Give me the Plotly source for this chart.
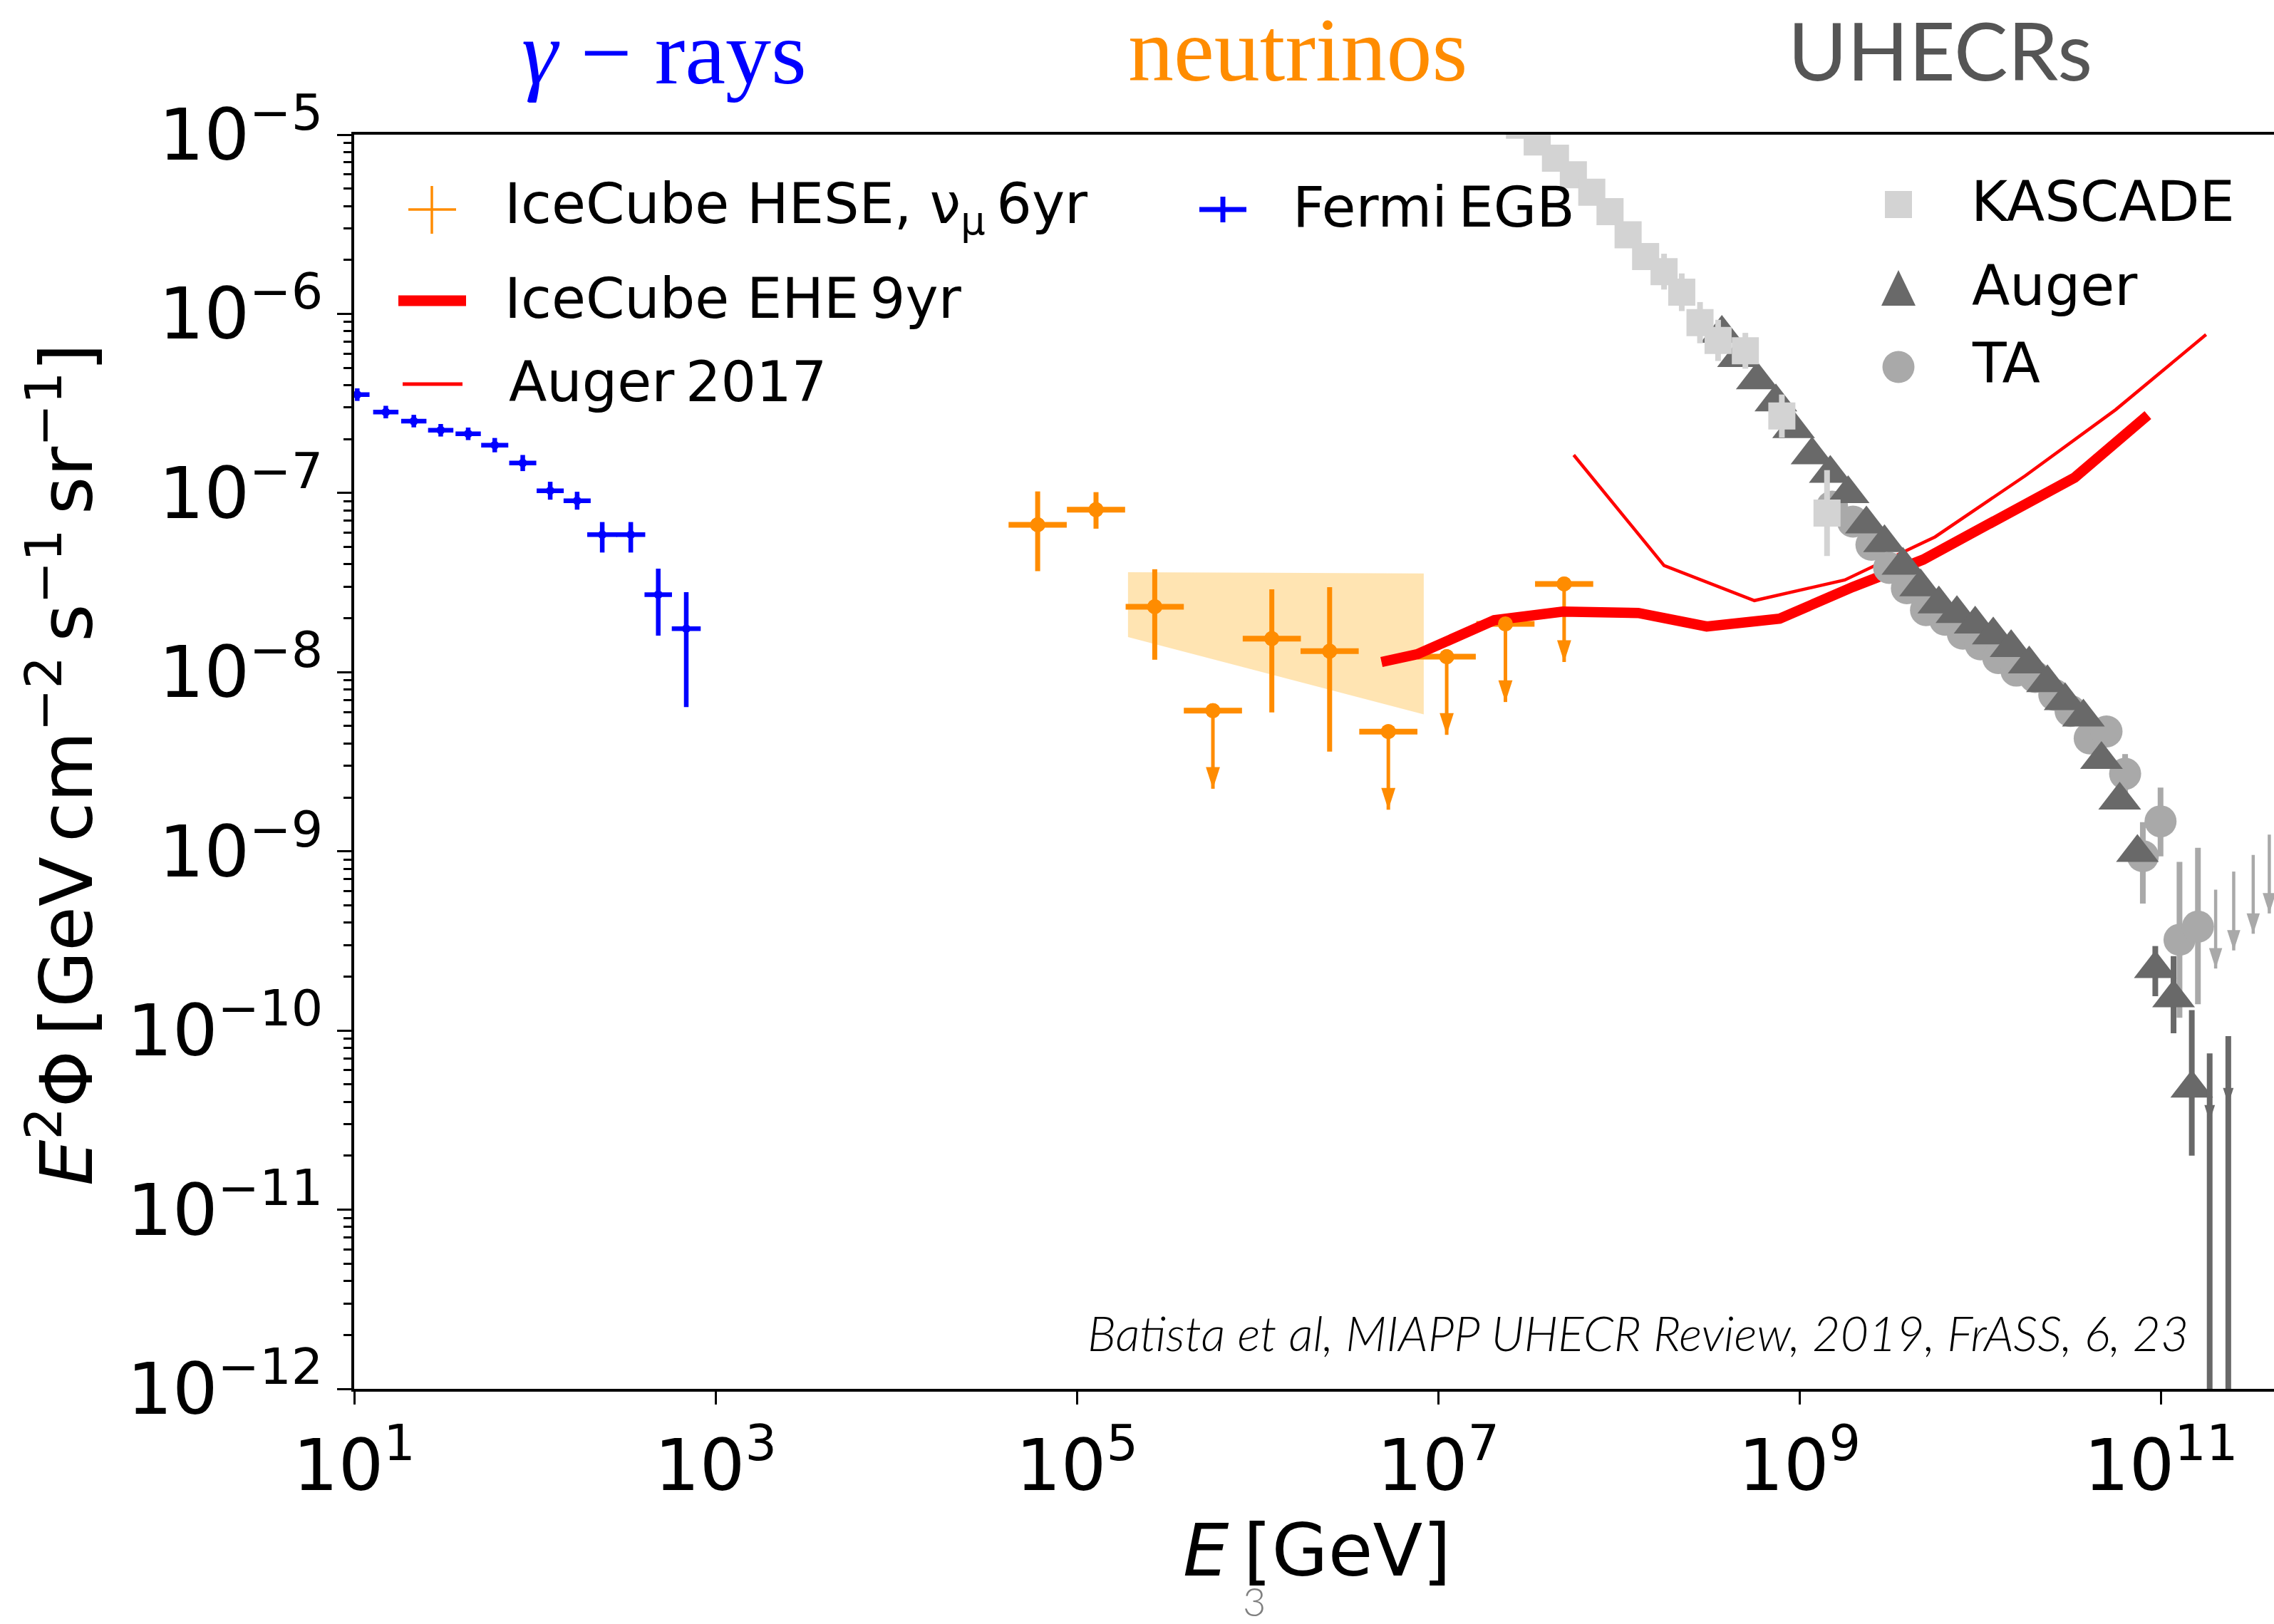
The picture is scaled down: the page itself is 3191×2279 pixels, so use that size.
import numpy as np
import plotly.graph_objects as go

# ------------------------------------------------------------------
# Data (energies given as log10(E / GeV), fluxes as E^2 Phi)
# ------------------------------------------------------------------

# Fermi-LAT extragalactic gamma-ray background
fermi_log10E = [1.017, 1.175, 1.330, 1.479, 1.631, 1.778, 1.933, 2.085, 2.234, 2.373, 2.531, 2.683, 2.838]
fermi_flux = [3.54e-7, 2.83e-7, 2.52e-7, 2.24e-7, 2.14e-7, 1.85e-7, 1.47e-7, 1.03e-7, 9.06e-8, 5.86e-8, 5.86e-8, 2.71e-8, 1.75e-8]
fermi_up_dex = [0.035, 0.035, 0.035, 0.035, 0.035, 0.040, 0.045, 0.050, 0.050, 0.070, 0.070, 0.145, 0.204]
fermi_dn_dex = [0.035, 0.035, 0.035, 0.035, 0.035, 0.040, 0.045, 0.050, 0.050, 0.100, 0.100, 0.229, 0.438]
fermi_halfbin_dex = [0.068, 0.070, 0.070, 0.070, 0.070, 0.075, 0.075, 0.075, 0.075, 0.083, 0.080, 0.076, 0.080]

# IceCube HESE 6yr unfolded spectrum (measured points and upper limits)
hese_log10E = [4.783, 5.106, 5.431, 6.079, 6.399]
hese_flux = [6.65e-8, 8.07e-8, 2.32e-8, 1.54e-8, 1.31e-8]
hese_up_dex = [0.186, 0.098, 0.209, 0.275, 0.357]
hese_dn_dex = [0.259, 0.106, 0.296, 0.412, 0.561]
hese_ul_log10E = [5.753, 6.724, 7.047, 7.372, 7.697]
hese_ul_flux = [6.1e-9, 4.66e-9, 1.22e-8, 1.86e-8, 3.11e-8]
hese_halfbin_dex = 0.161
hese_ul_arrow_dex = 0.436

# IceCube HESE power-law fit band
hese_band_log10E = [5.283, 6.920]
hese_band_upper = [3.61e-8, 3.56e-8]
hese_band_lower = [1.57e-8, 5.82e-9]

# IceCube EHE 9yr differential limit
ehe_log10E = [6.686, 6.884, 7.310, 7.690, 8.107, 8.486, 8.890, 9.295, 9.684, 10.269, 10.523, 10.928]
ehe_flux = [1.14e-8, 1.26e-8, 1.95e-8, 2.18e-8, 2.14e-8, 1.80e-8, 1.99e-8, 2.99e-8, 4.25e-8, 9.08e-8, 1.22e-7, 2.72e-7]

# Auger 2017 neutrino limit
auger17_log10E = [7.75, 8.25, 8.75, 9.25, 9.75, 10.25, 10.75, 11.25]
auger17_flux = [1.63e-7, 3.94e-8, 2.51e-8, 3.27e-8, 5.69e-8, 1.25e-7, 2.92e-7, 7.66e-7]

# KASCADE(-Grande) cosmic-ray spectrum
kascade_log10E = [7.450, 7.548, 7.649, 7.748, 7.850, 7.951, 8.051, 8.148, 8.250, 8.348, 8.449, 8.549, 8.700, 8.902, 9.152]
kascade_flux = [1.13e-5, 9.1e-6, 7.39e-6, 5.97e-6, 4.77e-6, 3.72e-6, 2.76e-6, 2.09e-6, 1.72e-6, 1.32e-6, 8.93e-7, 7.11e-7, 6.22e-7, 2.69e-7, 7.73e-8]
kascade_err_dex = [0.07, 0.07, 0.07, 0.07, 0.07, 0.07, 0.07, 0.07, 0.10, 0.105, 0.115, 0.115, 0.10, 0.12, 0.24]

# Pierre Auger Observatory spectrum
auger_log10E = [8.570, 8.662, 8.766, 8.869, 8.967, 9.069, 9.170, 9.269, 9.370, 9.470, 9.572, 9.670, 9.771, 9.871,
                9.972, 10.072, 10.171, 10.271, 10.372, 10.470, 10.571, 10.671, 10.772, 10.870, 10.969, 11.070, 11.171]
auger_flux = [7.76e-7, 5.69e-7, 4.27e-7, 3.22e-7, 2.28e-7, 1.63e-7, 1.285e-7, 9.89e-8, 6.71e-8, 5.27e-8, 3.94e-8,
              2.99e-8, 2.40e-8, 2.12e-8, 1.85e-8, 1.61e-8, 1.37e-8, 1.11e-8, 8.71e-9, 6.92e-9, 5.61e-9, 3.25e-9,
              1.93e-9, 9.84e-10, 2.21e-10, 1.52e-10, 4.76e-11]
auger_up_dex = [0.0] * 24 + [0.127, 0.233, 0.436]
auger_dn_dex = [0.0] * 24 + [0.153, 0.197, 0.376]
auger_ul_log10E = [11.270, 11.373]
auger_ul_flux = [7.46e-11, 9.31e-11]
auger_ul_arrow_dex = 0.38

# Telescope Array spectrum
ta_log10E = [9.180, 9.296, 9.398, 9.496, 9.594, 9.700, 9.806, 9.904, 10.002, 10.100, 10.200, 10.304, 10.410,
             10.500, 10.606, 10.699, 10.802, 10.900, 10.998, 11.103, 11.205]
ta_flux = [8.39e-8, 6.92e-8, 5.14e-8, 3.82e-8, 2.94e-8, 2.22e-8, 1.96e-8, 1.64e-8, 1.43e-8, 1.20e-8, 1.02e-8,
           9.40e-9, 7.48e-9, 6.07e-9, 4.27e-9, 4.67e-9, 2.71e-9, 9.40e-10, 1.47e-9, 3.21e-10, 3.80e-10]
ta_up_dex = [0.0] * 16 + [0.11, 0.190, 0.189, 0.435, 0.440]
ta_dn_dex = [0.0] * 16 + [0.11, 0.265, 0.195, 0.435, 0.433]
ta_ul_log10E = [11.303, 11.403, 11.511, 11.600]
ta_ul_flux = [6.11e-10, 7.71e-10, 9.55e-10, 1.24e-9]
ta_ul_arrow_dex = 0.44

# Axis ticks
x_tick_exp = [1, 3, 5, 7, 9, 11]
y_tick_exp = [-12, -11, -10, -9, -8, -7, -6, -5]

# ------------------------------------------------------------------
# Colours and fonts
# ------------------------------------------------------------------
BLUE = "#0000ff"
ORANGE = "#ff8c00"
RED = "#ff0000"
LIGHTGRAY = "#d3d3d3"
DARKGRAY = "#a9a9a9"
DIMGRAY = "#696969"
SANS = "DejaVu Sans"
THIN = "\u2009"


def energies(log10E):
    return 10.0 ** np.asarray(log10E, dtype=float)


def dex_err(vals, up, dn):
    v = np.asarray(vals, dtype=float)
    return v * (10.0 ** np.asarray(up, dtype=float) - 1.0), v * (1.0 - 10.0 ** -np.asarray(dn, dtype=float))


def vlines(xs, tops, bottoms):
    x, y = [], []
    for xi, t, b in zip(xs, tops, bottoms):
        x += [xi, xi, None]
        y += [t, b, None]
    return x, y


fig = go.Figure()

# HESE fit band
bx = energies(hese_band_log10E)
fig.add_trace(go.Scatter(
    x=[bx[0], bx[1], bx[1], bx[0]],
    y=[hese_band_upper[0], hese_band_upper[1], hese_band_lower[1], hese_band_lower[0]],
    fill="toself", fillcolor="rgba(255,165,0,0.3)", mode="lines", line=dict(width=0),
    hoverinfo="skip", name="HESE fit"))

# Fermi EGB
fe = energies(fermi_log10E)
fxp, fxm = dex_err(fe, fermi_halfbin_dex, fermi_halfbin_dex)
fyp, fym = dex_err(fermi_flux, fermi_up_dex, fermi_dn_dex)
fig.add_trace(go.Scatter(
    x=fe, y=fermi_flux, mode="markers", name="Fermi EGB",
    marker=dict(color=BLUE, size=12),
    error_x=dict(type="data", array=fxp, arrayminus=fxm, color=BLUE, thickness=6.5, width=0),
    error_y=dict(type="data", array=fyp, arrayminus=fym, color=BLUE, thickness=6.5, width=0)))

# IceCube HESE points (bars below the limit curves, dots on top)
he = energies(hese_log10E)
hxp, hxm = dex_err(he, [hese_halfbin_dex] * len(he), [hese_halfbin_dex] * len(he))
hyp, hym = dex_err(hese_flux, hese_up_dex, hese_dn_dex)
fig.add_trace(go.Scatter(
    x=he, y=hese_flux, mode="markers", name="IceCube HESE",
    marker=dict(color=ORANGE, size=21),
    error_x=dict(type="data", array=hxp, arrayminus=hxm, color=ORANGE, thickness=8, width=0),
    error_y=dict(type="data", array=hyp, arrayminus=hym, color=ORANGE, thickness=7, width=0)))

hue = energies(hese_ul_log10E)
hul = np.asarray(hese_ul_flux)
hul_tip = hul * 10.0 ** (-hese_ul_arrow_dex)
huxp, huxm = dex_err(hue, [hese_halfbin_dex] * len(hue), [hese_halfbin_dex] * len(hue))
fig.add_trace(go.Scatter(
    x=hue, y=hul, mode="markers", showlegend=False,
    marker=dict(color=ORANGE, size=21),
    error_x=dict(type="data", array=huxp, arrayminus=huxm, color=ORANGE, thickness=8, width=0),
    error_y=dict(type="data", array=np.zeros(len(hul)), arrayminus=hul - hul_tip, color=ORANGE, thickness=5, width=0)))
fig.add_trace(go.Scatter(
    x=hue, y=hul_tip, mode="markers", showlegend=False,
    marker=dict(color=ORANGE, size=32, symbol="arrow", angle=180)))

# IceCube EHE 9yr and Auger 2017 limits
fig.add_trace(go.Scatter(x=energies(ehe_log10E), y=ehe_flux, mode="lines", name="IceCube EHE 9yr",
                         line=dict(color=RED, width=14.5)))
fig.add_trace(go.Scatter(x=energies(auger17_log10E), y=auger17_flux, mode="lines", name="Auger 2017",
                         line=dict(color=RED, width=4.5)))

# HESE dots drawn over the limit curves
fig.add_trace(go.Scatter(x=np.concatenate([he, hue]), y=np.concatenate([hese_flux, hul]), mode="markers",
                         showlegend=False, marker=dict(color=ORANGE, size=21)))

# Telescope Array
te = energies(ta_log10E)
typ, tym = dex_err(ta_flux, ta_up_dex, ta_dn_dex)
fig.add_trace(go.Scatter(
    x=te, y=ta_flux, mode="markers", name="TA",
    marker=dict(color=DARKGRAY, size=45),
    error_y=dict(type="data", array=typ, arrayminus=tym, color=DARKGRAY, thickness=8, width=0)))
tue = energies(ta_ul_log10E)
tul = np.asarray(ta_ul_flux)
tul_tip = tul * 10.0 ** (-ta_ul_arrow_dex)
lx, ly = vlines(tue, tul, tul_tip)
fig.add_trace(go.Scatter(x=lx, y=ly, mode="lines", line=dict(color=DARKGRAY, width=4.5), showlegend=False))
fig.add_trace(go.Scatter(x=tue, y=tul_tip, mode="markers", showlegend=False,
                         marker=dict(color=DARKGRAY, size=30, symbol="arrow", angle=180)))

# Pierre Auger
ae = energies(auger_log10E)
ayp, aym = dex_err(auger_flux, auger_up_dex, auger_dn_dex)
fig.add_trace(go.Scatter(
    x=ae, y=auger_flux, mode="markers", name="Auger",
    marker=dict(color=DIMGRAY, size=52, symbol="triangle-up"),
    error_y=dict(type="data", array=ayp, arrayminus=aym, color=DIMGRAY, thickness=8, width=0)))
aue = energies(auger_ul_log10E)
aul = np.asarray(auger_ul_flux)
lx, ly = vlines(aue, aul, [1e-14] * len(aul))
fig.add_trace(go.Scatter(x=lx, y=ly, mode="lines", line=dict(color=DIMGRAY, width=8), showlegend=False))
fig.add_trace(go.Scatter(x=aue, y=aul * 10.0 ** (-auger_ul_arrow_dex), mode="markers", showlegend=False,
                         marker=dict(color=DIMGRAY, size=24, symbol="arrow", angle=180)))

# KASCADE
ke = energies(kascade_log10E)
kyp, kym = dex_err(kascade_flux, kascade_err_dex, kascade_err_dex)
fig.add_trace(go.Scatter(
    x=ke, y=kascade_flux, mode="markers", name="KASCADE",
    marker=dict(color=LIGHTGRAY, size=38, symbol="square"),
    error_y=dict(type="data", array=kyp, arrayminus=kym, color=LIGHTGRAY, thickness=8, width=0)))

# ------------------------------------------------------------------
# Layout helpers: pixel position -> paper fraction of the plot area
# ------------------------------------------------------------------
W, H = 3191, 2279
PL, PR, PT, PB = 497, 3191, 189, 1949


def px(x):
    return (x - PL) / (PR - PL)


def py(y):
    return (PB - y) / (PB - PT)


shapes = [
    # legend handles, left block
    dict(type="line", xref="paper", yref="paper", x0=px(606), x1=px(606), y0=py(261), y1=py(328),
         line=dict(color=ORANGE, width=3.5)),
    dict(type="line", xref="paper", yref="paper", x0=px(573), x1=px(640), y0=py(294), y1=py(294),
         line=dict(color=ORANGE, width=3.5)),
    dict(type="line", xref="paper", yref="paper", x0=px(559), x1=px(654), y0=py(422), y1=py(422),
         line=dict(color=RED, width=15)),
    dict(type="line", xref="paper", yref="paper", x0=px(565), x1=px(649), y0=py(539), y1=py(539),
         line=dict(color=RED, width=5)),
    dict(type="line", xref="paper", yref="paper", x0=px(1683), x1=px(1749), y0=py(294), y1=py(294),
         line=dict(color=BLUE, width=7)),
    dict(type="line", xref="paper", yref="paper", x0=px(1716), x1=px(1716), y0=py(276), y1=py(312),
         line=dict(color=BLUE, width=7)),
    # legend handles, right block
    dict(type="rect", xref="paper", yref="paper", x0=px(2645), x1=px(2683), y0=py(306), y1=py(268),
         fillcolor=LIGHTGRAY, line=dict(width=0)),
    dict(type="path", xref="paper", yref="paper",
         path="M {:.5f} {:.5f} L {:.5f} {:.5f} L {:.5f} {:.5f} Z".format(px(2640), py(429), px(2688), py(429),
                                                                      px(2664), py(379)),
         fillcolor=DIMGRAY, line=dict(width=0)),
    dict(type="circle", xref="paper", yref="paper", x0=px(2641.5), x1=px(2686.5), y0=py(537.5), y1=py(492.5),
         fillcolor=DARKGRAY, line=dict(width=0)),
]

legend_font = dict(family=SANS, size=78, color="black")
annotations = [
    dict(text="IceCube HESE, ν<sub>μ</sub>" + THIN + "6yr", x=px(706), y=py(291)),
    dict(text="IceCube EHE" + THIN + "9yr", x=px(706), y=py(419)),
    dict(text="Auger" + THIN + "2017", x=px(712), y=py(536)),
    dict(text="Fermi" + THIN + "EGB", x=px(1812), y=py(291)),
    dict(text="KASCADE", x=px(2764), y=py(283)),
    dict(text="Auger", x=px(2765), y=py(401)),
    dict(text="TA", x=px(2765), y=py(510)),
]
for a in annotations:
    a.update(xref="paper", yref="paper", xanchor="left", yanchor="middle", showarrow=False, font=legend_font)

annotations += [
    dict(text="<i>γ</i> − rays", x=px(932), y=py(74), xref="paper", yref="paper", xanchor="center",
         yanchor="middle", showarrow=False, font=dict(family="Liberation Serif", size=128, color=BLUE)),
    dict(text="neutrinos", x=px(1821), y=py(70), xref="paper", yref="paper", xanchor="center",
         yanchor="middle", showarrow=False, font=dict(family="Liberation Serif", size=128, color=ORANGE)),
    dict(text="UHECRs", x=px(2722), y=py(69), xref="paper", yref="paper", xanchor="center",
         yanchor="middle", showarrow=False, font=dict(family="Lato", size=113, color="#555555")),
    dict(text="Batista et al, MIAPP UHECR Review, 2019, FrASS, 6, 23", x=px(3073), y=py(1869),
         xref="paper", yref="paper", xanchor="right", yanchor="middle", showarrow=False,
         font=dict(family="Lato", size=68, color="black", style="italic", weight=300)),
    dict(text="3", x=px(1760), y=py(2246), xref="paper", yref="paper", xanchor="center", yanchor="middle",
         showarrow=False, font=dict(family="Lato", size=56, color="#808080", weight=300)),
    # axis titles
    dict(text="<i>E</i>" + THIN + "[GeV]", x=px(1848), y=py(2175), xref="paper", yref="paper", xanchor="center",
         yanchor="middle", showarrow=False, font=dict(family=SANS, size=102, color="black")),
    dict(text="<i>E</i><sup>2</sup>Φ" + THIN + "[GeV" + THIN + "cm<sup>−2</sup>" + THIN + "s<sup>−1</sup>" + THIN
         + "sr<sup>−1</sup>]", textangle=-90,
         x=px(86), y=py(1073), xref="paper", yref="paper", xanchor="center", yanchor="middle",
         showarrow=False, font=dict(family=SANS, size=102, color="black")),
]

minor_vals = [m * 10.0 ** e for e in range(-12, -5) for m in range(2, 10)]

fig.update_layout(
    width=W, height=H, autosize=False,
    margin=dict(l=PL, r=W - PR, t=PT, b=H - PB, pad=0),
    paper_bgcolor="white", plot_bgcolor="white",
    showlegend=False,
    font=dict(family=SANS, size=100, color="black"),
    shapes=shapes,
    annotations=annotations,
)

fig.update_xaxes(
    type="log", range=[1, 11.626], automargin=False,
    tickmode="array", tickvals=[10.0 ** e for e in x_tick_exp],
    ticktext=["10<sup>{}</sup>".format(e) for e in x_tick_exp],
    ticks="outside", ticklen=18, tickwidth=3, tickcolor="black",
    tickfont=dict(family=SANS, size=100, color="black"),
    showline=True, linecolor="black", linewidth=3.5, mirror=True,
    showgrid=False, zeroline=False,
)
fig.update_yaxes(
    type="log", range=[-12, -5], automargin=False,
    tickmode="array", tickvals=[10.0 ** e for e in y_tick_exp],
    ticktext=["10<sup>−{}</sup>".format(-e) for e in y_tick_exp],
    ticks="outside", ticklen=20, tickwidth=3, tickcolor="black",
    tickfont=dict(family=SANS, size=100, color="black"),
    showline=True, linecolor="black", linewidth=3.5, mirror=False,
    showgrid=False, zeroline=False,
    minor=dict(tickmode="array", tickvals=minor_vals, ticks="outside", ticklen=11, tickwidth=2.5,
               tickcolor="black", showgrid=False),
)

fig.write_html("out.html")
